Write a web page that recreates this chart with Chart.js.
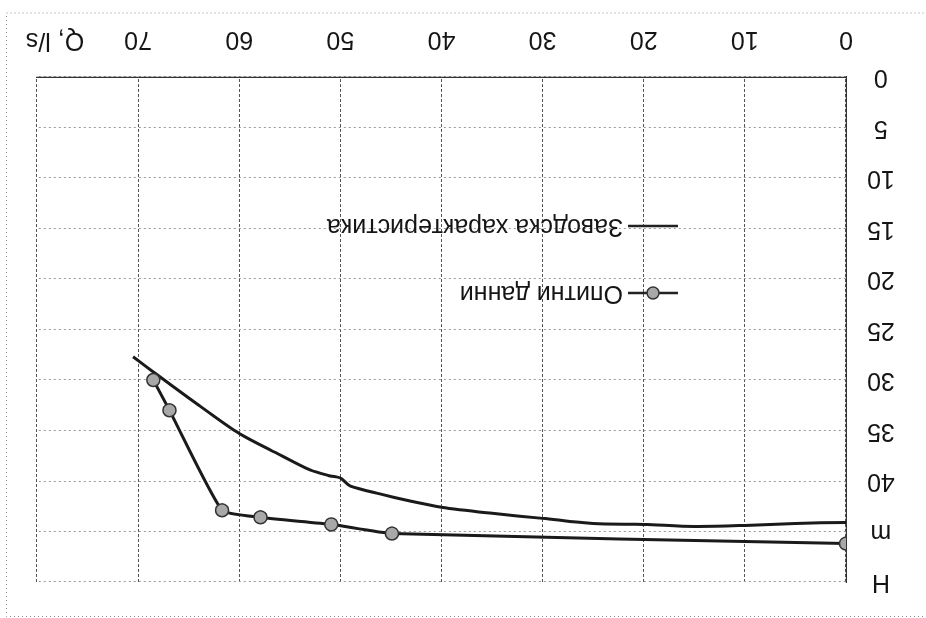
<!DOCTYPE html>
<html>
<head>
<meta charset="utf-8">
<script src="https://cdn.jsdelivr.net/npm/chart.js@4.4.0/dist/chart.umd.min.js"></script>
<style>
  html, body { margin: 0; padding: 0; background: #fff; }
  #wrap { position: absolute; left: 0; top: 0; width: 926px; height: 618px; transform: rotate(180deg); }
</style>
</head>
<body>
<div id="wrap"><canvas id="chart"></canvas></div>
<script>
// measured values (Q in l/s, H in m)
var expQ = [0, 44.9, 50.9, 57.9, 61.7, 66.9, 68.5];
var expH = [46.2, 45.2, 44.3, 43.6, 42.9, 33.0, 30.0];

var factQ = [0, 5, 10, 15, 20, 25, 30, 35, 40, 43, 46, 49, 50, 51, 53, 56, 60, 64, 68.5, 70.5];
var factH = [44.1, 44.2, 44.4, 44.5, 44.3, 44.2, 43.7, 43.2, 42.6, 42.0, 41.3, 40.5, 39.7, 39.5, 38.9, 37.4, 35.3, 32.5, 29.2, 27.7];

var xTicks = [0, 10, 20, 30, 40, 50, 60, 70, 80];
var yTicks = [0, 5, 10, 15, 20, 25, 30, 35, 40, 45, 50];
var yTickText = { 45: 'm', 50: 'H' };
var xAxisName = 'Q, l/s';

var seriesNames = ['Опитни данни', 'Заводска характеристика'];

function toPoints(xs, ys) {
    return xs.map(function (x, i) { return { x: x, y: ys[i] }; });
}

var font = { family: "'Liberation Sans', Arial, sans-serif", size: 25 };
var ink = '#151515';

// dotted frame, legend and the Q label
var extras = {
    id: 'extras',
    beforeDraw: function (c) {
        var g = c.ctx;
        g.save();
        g.fillStyle = '#fff';
        g.fillRect(0, 0, c.width, c.height);
        g.strokeStyle = '#8a8a8a';
        g.lineWidth = 1;
        g.setLineDash([1, 3]);
        g.strokeRect(-5, 1.5, 924.5, 603.5);
        g.restore();
    },
    afterDraw: function (c) {
        var g = c.ctx, a = c.chartArea, xs = c.scales.x;
        g.save();
        g.font = font.size + 'px ' + font.family;
        g.fillStyle = ink;
        g.textBaseline = 'middle';
        g.textAlign = 'center';
        g.fillText(xAxisName, xs.getPixelForValue(80) - 18, a.bottom + 37);

        var lx = a.left + 168, rows = [a.top + 289, a.top + 356];
        g.textAlign = 'left';
        rows.forEach(function (y, i) {
            g.strokeStyle = '#222';
            g.lineWidth = 2.5;
            g.setLineDash([]);
            g.beginPath();
            g.moveTo(lx, y);
            g.lineTo(lx + 50, y);
            g.stroke();
            if (i === 0) {
                g.beginPath();
                g.arc(lx + 25, y, 6, 0, Math.PI * 2);
                g.fillStyle = '#a8a8a8';
                g.fill();
                g.lineWidth = 1.5;
                g.strokeStyle = '#333';
                g.stroke();
            }
            g.fillStyle = ink;
            g.fillText(seriesNames[i], lx + 55, y);
        });
        g.restore();
    }
};

var ctx = document.querySelector('#chart').getContext('2d');
var chart = new Chart(ctx, {
    type: 'scatter',
    plugins: [extras],
    data: {
        datasets: [{
            label: seriesNames[0],
            data: toPoints(expQ, expH),
            showLine: true,
            tension: 0.15,
            borderColor: '#1a1a1a',
            borderWidth: 3,
            pointRadius: 6.5,
            pointBackgroundColor: '#a8a8a8',
            pointBorderColor: '#333',
            pointBorderWidth: 1.5
        }, {
            label: seriesNames[1],
            data: toPoints(factQ, factH),
            showLine: true,
            tension: 0.3,
            borderColor: '#1a1a1a',
            borderWidth: 3,
            pointRadius: 0
        }]
    },
    options: {
        responsive: true,
        maintainAspectRatio: false,
        animation: false,
        layout: { padding: { top: 31, right: 37, left: 0, bottom: 0 } },
        plugins: { legend: { display: false }, tooltip: { enabled: false } },
        scales: {
            x: {
                type: 'linear',
                min: 0,
                max: 80,
                afterBuildTicks: function (s) { s.ticks = xTicks.map(function (v) { return { value: v }; }); },
                afterFit: function (s) { s.height = 77; },
                ticks: {
                    font: font,
                    color: ink,
                    padding: 23,
                    maxRotation: 0,
                    callback: function (v) { return v === 80 ? '' : v; }
                },
                grid: { color: '#555', lineWidth: 1, drawTicks: false },
                border: { display: true, color: '#333', width: 1.2, dash: [3, 2] }
            },
            y: {
                type: 'linear',
                min: 0,
                max: 50,
                afterBuildTicks: function (s) { s.ticks = yTicks.map(function (v) { return { value: v }; }); },
                afterFit: function (s) { s.width = 80; },
                ticks: {
                    font: font,
                    color: ink,
                    padding: 21,
                    crossAlign: 'center',
                    callback: function (v) { return yTickText[v] || v; }
                },
                grid: { color: '#999', lineWidth: 1, drawTicks: false },
                border: { display: true, color: '#333', width: 1.2, dash: [2, 3] }
            }
        }
    }
});
</script>
</body>
</html>
